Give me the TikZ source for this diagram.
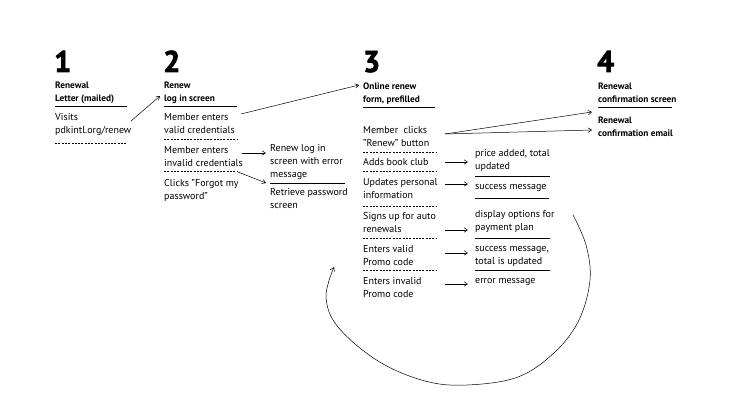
\documentclass[tikz,border=0pt]{standalone}
\usepackage{fontspec}
\setmainfont{PT Sans}
\newfontfamily\bignum[BoldFeatures={FakeBold=2.5}]{PT Sans}
\usetikzlibrary{arrows.meta}
\begin{document}
\begin{tikzpicture}[x=1pt,y=-1pt,
  txt/.style={anchor=north west,inner sep=0pt,align=left,font=\fontsize{10}{13}\selectfont},
  hdr/.style={anchor=north west,inner sep=0pt,align=left,font=\fontsize{9.3}{13}\selectfont\bfseries},
  num/.style={anchor=base west,inner sep=0pt,font=\fontsize{30}{30}\bignum\bfseries},
  rulesolid/.style={line width=0.9pt},
  ruledash/.style={line width=0.5pt,dash pattern=on 2pt off 1.3pt},
  arr/.style={line width=0.5pt,-{Straight Barb[length=3.5pt,width=4.5pt]}}]
\useasboundingbox (0,0) rectangle (741,414);

% column 1
\node[num] (n1) at (54,72) {1};
\node[hdr] (h1) at (55,78.9) {\strut Renewal\\Letter (mailed)};
\draw[rulesolid] (55,106.7) -- (127,106.7);
\node[txt] (a1) at (55,110.9) {\strut Visits\\pdkintl.org/renew};
\draw[ruledash] (55,143) -- (127,143);

% column 2
\node[num] (n2) at (163,72) {2};
\node[hdr] (h2) at (164,78.9) {\strut Renew\\log in screen};
\draw[rulesolid] (164,106.7) -- (237,106.7);
\node[txt] (b1) at (164,110.9) {\strut Member enters\\valid credentials};
\draw[ruledash] (164,139) -- (237,139);
\node[txt] (b2) at (164,143.9) {\strut Member enters\\invalid credentials};
\draw[ruledash] (164,171) -- (237,171);
\node[txt] (b3) at (164,176.9) {\strut Clicks "Forgot my\\password"};

% column 2b
\node[txt] (c1) at (270,141.9) {\strut Renew log in\\screen with error\\message};
\draw[rulesolid] (270,183) -- (345,183);
\node[txt] (c2) at (270,185.9) {\strut Retrieve password\\screen};

% column 3
\node[num] (n3) at (363,72) {3};
\node[hdr] (h3) at (363,79.9) {\strut Online renew\\form, prefilled};
\draw[rulesolid] (363,107) -- (435,107);
\node[txt] (d1) at (363,123.9) {\strut Member\ \ clicks\\"Renew" button};
\draw[ruledash] (363,152.7) -- (436,152.7);
\node[txt] (d2) at (363,156.4) {\strut Adds book club};
\draw[ruledash] (363,171) -- (436,171);
\node[txt] (d3) at (363,176.4) {\strut Updates personal\\information};
\draw[ruledash] (363,206.5) -- (436,206.5);
\node[txt] (d4) at (363,209.9) {\strut Signs up for auto\\renewals};
\draw[ruledash] (363,238) -- (436,238);
\node[txt] (d5) at (363,242.9) {\strut Enters valid\\Promo code};
\draw[ruledash] (363,270) -- (436,270);
\node[txt] (d6) at (363,274.9) {\strut Enters invalid\\Promo code};

% column 3b
\node[txt] (e1) at (475,146.9) {\strut price added, total\\updated};
\draw[rulesolid] (475,176) -- (550,176);
\node[txt] (e2) at (475,179.9) {\strut success message};
\draw[rulesolid] (475,198) -- (549,198);
\node[txt] (e3) at (475,207.9) {\strut display options for\\payment plan};
\draw[rulesolid] (475,238) -- (550,238);
\node[txt] (e4) at (475,241.9) {\strut success message,\\total is updated};
\draw[rulesolid] (475,270) -- (550,270);
\node[txt] (e5) at (475,273.9) {\strut error message};

% column 4
\node[num] (n4) at (597,72) {4};
\node[hdr] (h4) at (598,79.9) {\strut Renewal\\confirmation screen};
\draw[rulesolid] (598,107) -- (672,107);
\node[hdr] (f1) at (598,113.9) {\strut Renewal\\confirmation email};

% connector end points
\coordinate (a1o) at (131,121);  \coordinate (h2i) at (160,96);
\coordinate (b1o) at (241,114);  \coordinate (h3i) at (359,85);
\coordinate (b2o) at (242,153);  \coordinate (c1i) at (266,153);
\coordinate (b3o) at (238,172);  \coordinate (c2i) at (266,183);
\coordinate (d1o) at (445,134);
\coordinate (h4i) at (592,112);  \coordinate (f1i) at (592,130);
\coordinate (d2o) at (445,162);  \coordinate (e1i) at (468,162);
\coordinate (d3o) at (445,184);  \coordinate (e2i) at (468,184);
\coordinate (d4o) at (445,230);  \coordinate (e3i) at (468,230);
\coordinate (d5o) at (445,253);  \coordinate (e4i) at (468,253);
\coordinate (d6o) at (445,284);  \coordinate (e5i) at (468,284);
\coordinate (cs) at (573,215);
\coordinate (p1) at (586,245);
\coordinate (p2) at (590,280);
\coordinate (p3) at (579,320);
\coordinate (p4) at (555,352);
\coordinate (p5) at (518,377);
\coordinate (cb) at (467,385);
\coordinate (p6) at (425,381);
\coordinate (p7) at (378,361);
\coordinate (p8) at (338,327);
\coordinate (cl) at (326,297);
\coordinate (ce) at (334,267);

\draw[arr] (a1o) -- (h2i);
\draw[arr] (b1o) -- (h3i);
\draw[arr] (b2o) -- (c1i);
\draw[arr] (b3o) -- (c2i);
\draw[arr] (d1o) -- (h4i);
\draw[arr] (d1o) -- (f1i);
\draw[arr] (d2o) -- (e1i);
\draw[arr] (d3o) -- (e2i);
\draw[arr] (d4o) -- (e3i);
\draw[arr] (d5o) -- (e4i);
\draw[arr] (d6o) -- (e5i);
\draw[arr] plot[smooth,tension=0.6] coordinates {(cs) (p1) (p2) (p3) (p4) (p5) (cb) (p6) (p7) (p8) (cl) (ce)};
\end{tikzpicture}
\end{document}
